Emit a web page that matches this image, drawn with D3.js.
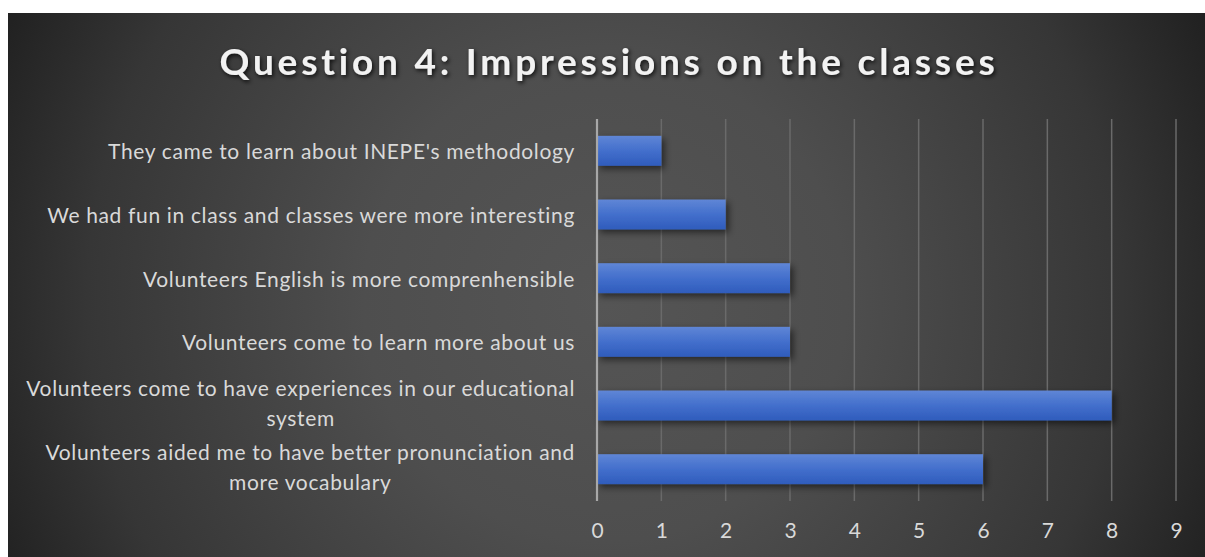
<!DOCTYPE html>
<html>
<head>
<meta charset="utf-8">
<script src="https://cdn.jsdelivr.net/npm/d3@7"></script>
<style>
  html, body { margin: 0; padding: 0; background: #ffffff; }
  svg { display: block; }
</style>
</head>
<body>
<svg id="chart" width="1205" height="557"></svg>
<script>
const title = "Question 4: Impressions on the classes";
const categories = [
  ["They came to learn about INEPE's methodology"],
  ["We had fun in class and classes were more interesting"],
  ["Volunteers English is more comprenhensible"],
  ["Volunteers come to learn more about us"],
  ["Volunteers come to have experiences in our educational", "system"],
  ["Volunteers aided me to have better pronunciation and", "more vocabulary"]
];
const values = [1, 2, 3, 3, 8, 6];
const xTicks = [0, 1, 2, 3, 4, 5, 6, 7, 8, 9];

const svg = d3.select("#chart");
const frame = { x: 8, y: 13, w: 1197, h: 544 };
const plot = { left: 597, right: 1176, top: 119, bottom: 501 };
const labelFont = "Lato, 'Open Sans', sans-serif";

const defs = svg.append("defs");
const bg = defs.append("radialGradient").attr("id", "bg")
  .attr("gradientUnits", "userSpaceOnUse")
  .attr("cx", 605).attr("cy", 300).attr("r", 690);
bg.append("stop").attr("offset", "0").attr("stop-color", "#555555");
bg.append("stop").attr("offset", "0.35").attr("stop-color", "#4e4e4e");
bg.append("stop").attr("offset", "0.75").attr("stop-color", "#363636");
bg.append("stop").attr("offset", "1").attr("stop-color", "#1d1d1d");

const barGrad = defs.append("linearGradient").attr("id", "barGrad")
  .attr("x1", 0).attr("y1", 0).attr("x2", 0).attr("y2", 1);
barGrad.append("stop").attr("offset", "0").attr("stop-color", "#5f86d6");
barGrad.append("stop").attr("offset", "0.5").attr("stop-color", "#436fcc");
barGrad.append("stop").attr("offset", "1").attr("stop-color", "#2f5cbc");

const sh = defs.append("filter").attr("id", "barShadow")
  .attr("x", "-10%").attr("y", "-30%").attr("width", "130%").attr("height", "180%");
sh.append("feDropShadow").attr("dx", 3).attr("dy", 3).attr("stdDeviation", 3.5)
  .attr("flood-color", "#000").attr("flood-opacity", 0.55);

const tsh = defs.append("filter").attr("id", "titleShadow")
  .attr("x", "-5%").attr("y", "-30%").attr("width", "110%").attr("height", "170%");
tsh.append("feDropShadow").attr("dx", 1.5).attr("dy", 2).attr("stdDeviation", 2)
  .attr("flood-color", "#000").attr("flood-opacity", 0.8);

svg.append("rect").attr("x", frame.x).attr("y", frame.y)
  .attr("width", frame.w).attr("height", frame.h).attr("fill", "url(#bg)");

svg.append("text")
  .attr("x", 609).attr("y", 75)
  .attr("text-anchor", "middle")
  .attr("font-family", labelFont)
  .attr("font-weight", "bold")
  .attr("font-size", 37)
  .attr("letter-spacing", 3.8)
  .attr("fill", "#f2f2f2")
  .attr("filter", "url(#titleShadow)")
  .text(title);

const x = d3.scaleLinear().domain([0, 9]).range([plot.left, plot.right]);
const y = d3.scaleBand().domain(d3.range(categories.length))
  .range([plot.top, plot.bottom]).paddingInner(0.53).paddingOuter(0.265);

// gridlines
svg.append("g").selectAll("line").data(xTicks.filter(d => d > 0)).join("line")
  .attr("x1", d => x(d)).attr("x2", d => x(d))
  .attr("y1", plot.top).attr("y2", plot.bottom)
  .attr("stroke", "#6a6a6a").attr("stroke-width", 1.5);

// bars
svg.append("g").selectAll("rect").data(values).join("rect")
  .attr("x", x(0))
  .attr("y", (d, i) => y(i))
  .attr("width", d => x(d) - x(0))
  .attr("height", y.bandwidth())
  .attr("fill", "url(#barGrad)")
  .attr("filter", "url(#barShadow)");

// axis line
svg.append("line")
  .attr("x1", x(0)).attr("x2", x(0))
  .attr("y1", plot.top).attr("y2", plot.bottom)
  .attr("stroke", "#a8a8a8").attr("stroke-width", 2.2);

// x axis via d3 axis
const xAxis = d3.axisBottom(x).tickValues(xTicks).tickSize(0).tickPadding(0).tickFormat(d3.format("d"));
const gx = svg.append("g").attr("transform", `translate(0, 538)`).call(xAxis);
gx.select(".domain").remove();
gx.selectAll("text")
  .attr("dy", 0)
  .attr("font-family", labelFont)
  .attr("font-size", 21)
  .attr("fill", "#d9d9d9");

// category labels
const labelRight = 575;
const lineH = 30;
const lg = svg.append("g");
categories.forEach((lines, i) => {
  const cy = y(i) + y.bandwidth() / 2;
  const g = lg.append("g");
  const texts = lines.map((ln, k) => g.append("text")
    .attr("font-family", labelFont)
    .attr("font-size", 21)
    .attr("letter-spacing", 0.65)
    .attr("fill", "#d9d9d9")
    .attr("dominant-baseline", "central")
    .attr("y", cy + (k - (lines.length - 1) / 2) * lineH - (lines.length > 1 ? 3 : 0))
    .text(ln));
  const maxW = d3.max(texts, t => t.node().getComputedTextLength());
  texts.forEach(t => t.attr("text-anchor", "middle").attr("x", labelRight - maxW / 2));
});
</script>
</body>
</html>
